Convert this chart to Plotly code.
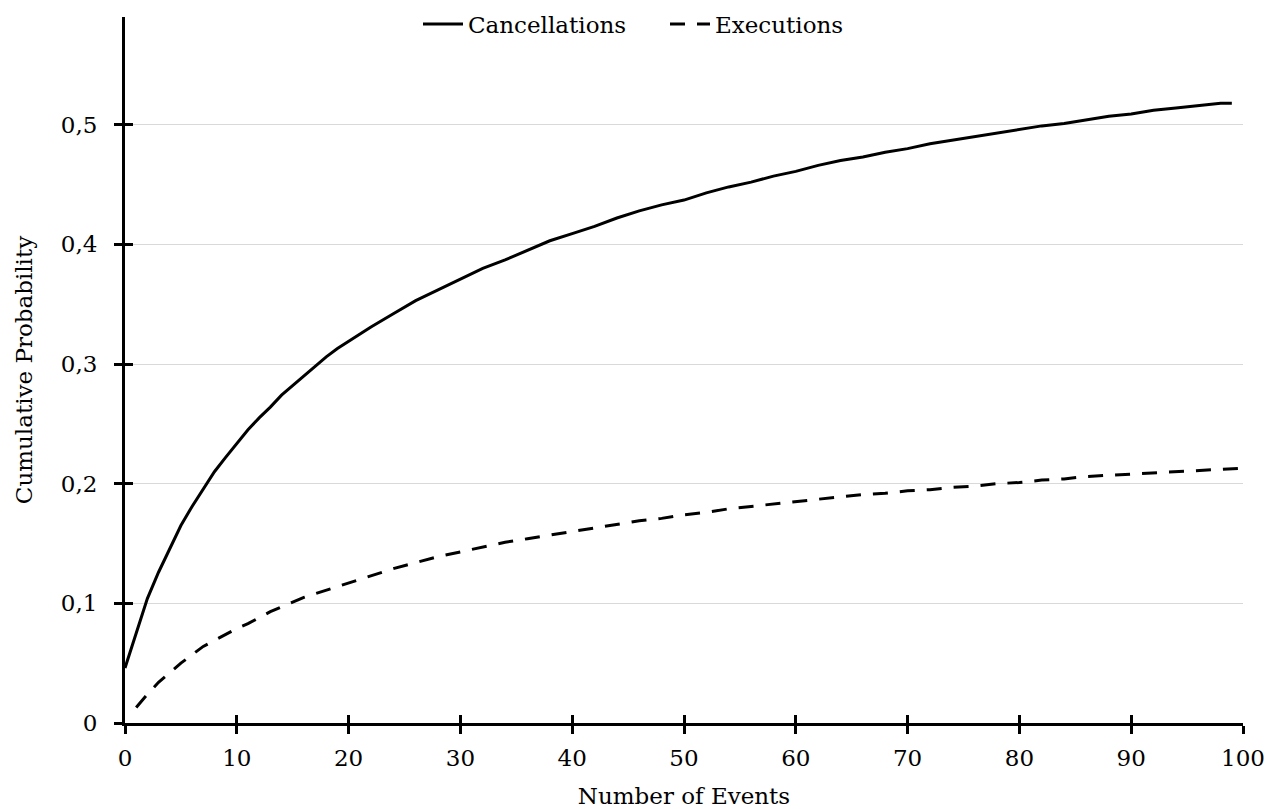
import plotly.graph_objects as go

# ---- data ----
canc_x = [0, 1, 2, 3, 4, 5, 6, 7, 8, 9, 10, 11, 12, 13, 14, 15, 16, 17, 18, 19, 20,
          22, 24, 26, 28, 30, 32, 34, 36, 38, 40, 42, 44, 46, 48, 50, 52, 54, 56, 58,
          60, 62, 64, 66, 68, 70, 72, 74, 76, 78, 80, 82, 84, 86, 88, 90, 92, 94, 96, 98, 99]
canc_y = [0.046, 0.075, 0.104, 0.126, 0.146, 0.165, 0.181, 0.196, 0.210, 0.222, 0.234,
          0.245, 0.255, 0.264, 0.274, 0.282, 0.290, 0.298, 0.306, 0.313, 0.319,
          0.331, 0.342, 0.353, 0.362, 0.371, 0.380, 0.387, 0.395, 0.403, 0.409,
          0.415, 0.422, 0.428, 0.433, 0.437, 0.443, 0.448, 0.452, 0.457, 0.461,
          0.466, 0.470, 0.473, 0.477, 0.480, 0.484, 0.487, 0.490, 0.493, 0.496,
          0.499, 0.501, 0.504, 0.507, 0.509, 0.512, 0.514, 0.516, 0.518, 0.518]

exec_x = [1, 2, 3, 4, 5, 6, 7, 8, 9, 10, 11, 12, 13, 14, 15, 16, 17, 18, 19, 20,
          22, 24, 26, 28, 30, 32, 34, 36, 38, 40, 42, 44, 46, 48, 50, 52, 54, 56, 58,
          60, 62, 64, 66, 68, 70, 72, 74, 76, 78, 80, 82, 84, 86, 88, 90, 92, 94, 96, 98, 100]
exec_y = [0.013, 0.024, 0.034, 0.042, 0.050, 0.057, 0.064, 0.069, 0.074, 0.079,
          0.083, 0.088, 0.093, 0.097, 0.101, 0.105, 0.108, 0.111, 0.114, 0.117,
          0.123, 0.129, 0.134, 0.139, 0.143, 0.147, 0.151, 0.154, 0.157, 0.160,
          0.163, 0.166, 0.169, 0.171, 0.174, 0.176, 0.179, 0.181, 0.183, 0.185,
          0.187, 0.189, 0.191, 0.192, 0.194, 0.195, 0.197, 0.198, 0.200, 0.201,
          0.203, 0.204, 0.206, 0.207, 0.208, 0.209, 0.210, 0.211, 0.212, 0.213]

x_ticks = [0, 10, 20, 30, 40, 50, 60, 70, 80, 90, 100]
y_ticks = [0, 0.1, 0.2, 0.3, 0.4, 0.5]
y_tick_labels = ["0", "0,1", "0,2", "0,3", "0,4", "0,5"]

FONT = "DejaVu Serif"
FS = 23
f = dict(family=FONT, size=FS, color="black")

fig = go.Figure()
fig.add_trace(go.Scatter(x=canc_x, y=canc_y, mode="lines", name="Cancellations",
                         line=dict(color="black", width=3)))
fig.add_trace(go.Scatter(x=exec_x, y=exec_y, mode="lines", name="Executions",
                         line=dict(color="black", width=3, dash="15px,12px")))

common_x = dict(range=[0, 100], tickvals=x_ticks)
common_y = dict(range=[0, 0.59], tickvals=y_ticks)

fig.update_layout(
    width=1270, height=809, autosize=False,
    margin=dict(l=125, r=27, t=17, b=86, autoexpand=False),
    paper_bgcolor="white", plot_bgcolor="white",
    font=f,
    showlegend=True,
    legend=dict(orientation="h", x=0.483, xanchor="center", y=0.99, yanchor="middle",
                font=f, bgcolor="rgba(0,0,0,0)",
                itemwidth=40, entrywidth=192, entrywidthmode="pixels"),
    xaxis=dict(**common_x, showline=True, linecolor="black", linewidth=3,
               ticks="outside", ticklen=8, tickwidth=3, tickcolor="black",
               showgrid=False, zeroline=False, ticklabelstandoff=4,
               ticklabeloverflow="allow", tickfont=f,
               title=dict(text="Number of Events", standoff=21, font=f)),
    yaxis=dict(**common_y, ticktext=y_tick_labels, showline=True, linecolor="black",
               linewidth=3, ticks="outside", ticklen=8, tickwidth=3, tickcolor="black",
               showgrid=True, gridcolor="#d9d9d9", gridwidth=1, zeroline=False,
               ticklabelstandoff=12, tickfont=f,
               title=dict(text="Cumulative Probability", standoff=22, font=f)),
    xaxis2=dict(**common_x, overlaying="x", anchor="y", ticks="inside", ticklen=8,
                tickwidth=3, tickcolor="black", showticklabels=False, showgrid=False,
                showline=False, zeroline=False, side="bottom"),
    yaxis2=dict(**common_y, overlaying="y", anchor="x", ticks="inside", ticklen=8,
                tickwidth=3, tickcolor="black", showticklabels=False, showgrid=False,
                showline=False, zeroline=False, side="left"),
)
# invisible trace so the overlay axes (inner half of the crossing ticks) are drawn
fig.add_trace(go.Scatter(x=[None], y=[None], xaxis="x2", yaxis="y2",
                         showlegend=False, hoverinfo="skip"))

# remove the default 8px page margin so the 1270x809 figure fills the window exactly
fig.write_html("out.html",
               config={"displayModeBar": False},
               post_script="document.body.style.margin='0';"
                           "document.body.style.overflow='hidden';"
                           "document.documentElement.style.overflow='hidden';")
